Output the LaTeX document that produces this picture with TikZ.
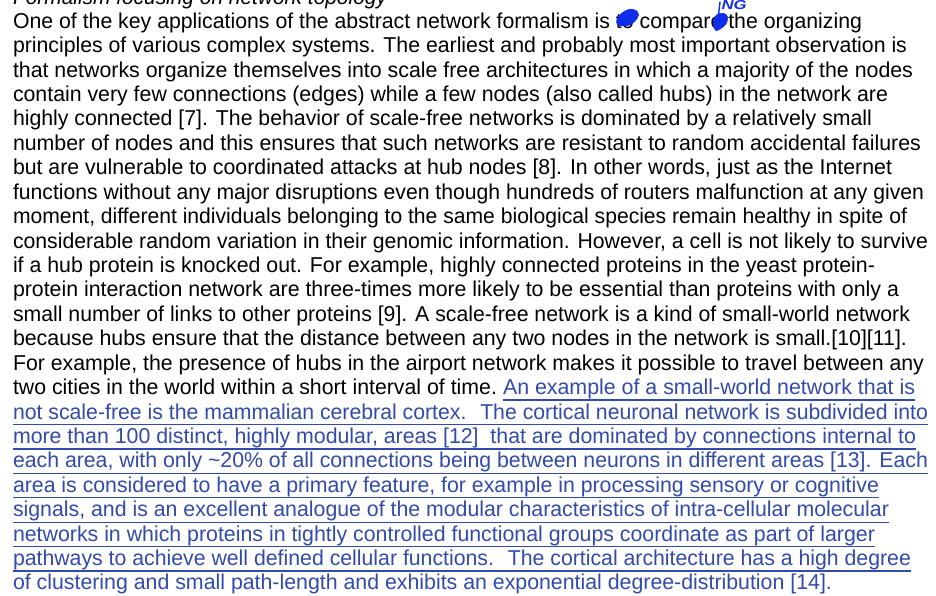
\documentclass[tikz,border=0pt]{standalone}
\usepackage{fontspec}
\setmainfont{Liberation Sans}
\usepackage{graphicx}
\definecolor{linkblue}{RGB}{50,75,170}
\definecolor{penblue}{RGB}{15,45,235}
\newcommand{\fitw}[2]{\resizebox{#1pt}{\height}{#2}}
\tikzset{
  txt/.style={anchor=base west, inner sep=0pt, outer sep=0pt, font=\fontsize{21.5}{24}\selectfont, text=black},
  lnk/.style={txt, text=linkblue},
  ul/.style={draw=linkblue, line width=1.4pt},
  pen/.style={fill=penblue, draw=penblue, line width=0.6pt, line join=round}
}
\begin{document}
\begin{tikzpicture}[x=1pt,y=-1pt]
\useasboundingbox[fill=white] (0,0) rectangle (936,595);
\def\bl#1{\fpeval{28.3+24.42*(#1-1)}}
\node[txt, font=\fontsize{21.5}{24}\selectfont\itshape] (t0) at (13,4.2) {\fitw{374}{Formalism focusing on network topology}};
\node[txt] (l1) at (13,\bl{1}) {\fitw{849}{One of the key applications of the abstract network formalism is to compare the organizing}};
\node[txt] (l2) at (13,\bl{2}) {\fitw{894}{principles of various complex systems. The earliest and probably most important observation is}};
\node[txt] (l3) at (13,\bl{3}) {\fitw{900}{that networks organize themselves into scale free architectures in which a majority of the nodes}};
\node[txt] (l4) at (13,\bl{4}) {\fitw{875}{contain very few connections (edges) while a few nodes (also called hubs) in the network are}};
\node[txt] (l5) at (13,\bl{5}) {\fitw{859}{highly connected [7]. The behavior of scale-free networks is dominated by a relatively small}};
\node[txt] (l6) at (13,\bl{6}) {\fitw{908}{number of nodes and this ensures that such networks are resistant to random accidental failures}};
\node[txt] (l7) at (13,\bl{7}) {\fitw{879}{but are vulnerable to coordinated attacks at hub nodes [8]. In other words, just as the Internet}};
\node[txt] (l8) at (13,\bl{8}) {\fitw{911}{functions without any major disruptions even though hundreds of routers malfunction at any given}};
\node[txt] (l9) at (13,\bl{9}) {\fitw{894}{moment, different individuals belonging to the same biological species remain healthy in spite of}};
\node[txt] (l10) at (13,\bl{10}) {\fitw{915}{considerable random variation in their genomic information. However, a cell is not likely to survive}};
\node[txt] (l11) at (13,\bl{11}) {\fitw{862}{if a hub protein is knocked out. For example, highly connected proteins in the yeast protein-}};
\node[txt] (l12) at (13,\bl{12}) {\fitw{886}{protein interaction network are three-times more likely to be essential than proteins with only a}};
\node[txt] (l13) at (13,\bl{13}) {\fitw{897}{small number of links to other proteins [9]. A scale-free network is a kind of small-world network}};
\node[txt] (l14) at (13,\bl{14}) {\fitw{894}{because hubs ensure that the distance between any two nodes in the network is small.[10][11].}};
\node[txt] (l15) at (13,\bl{15}) {\fitw{911}{For example, the presence of hubs in the airport network makes it possible to travel between any}};
\node[txt] (l16a) at (13,\bl{16}) {\fitw{484}{two cities in the world within a short interval of time.}};
\node[lnk] (l16b) at (503,\bl{16}) {\fitw{412}{An example of a small-world network that is}};
\node[lnk] (l17) at (13,\bl{17}) {\fitw{915}{not scale-free is the mammalian cerebral cortex.~ The cortical neuronal network is subdivided into}};
\node[lnk] (l18) at (13,\bl{18}) {\fitw{903}{more than 100 distinct, highly modular, areas [12]~ that are dominated by connections internal to}};
\node[lnk] (l19) at (13,\bl{19}) {\fitw{915}{each area, with only \textasciitilde20\% of all connections being between neurons in different areas [13]. Each}};
\node[lnk] (l20) at (13,\bl{20}) {\fitw{866}{area is considered to have a primary feature, for example in processing sensory or cognitive}};
\node[lnk] (l21) at (13,\bl{21}) {\fitw{876}{signals, and is an excellent analogue of the modular characteristics of intra-cellular molecular}};
\node[lnk] (l22) at (13,\bl{22}) {\fitw{862}{networks in which proteins in tightly controlled functional groups coordinate as part of larger}};
\node[lnk] (l23) at (13,\bl{23}) {\fitw{898}{pathways to achieve well defined cellular functions.~ The cortical architecture has a high degree}};
\node[lnk] (l24) at (13,\bl{24}) {\fitw{819}{of clustering and small path-length and exhibits an exponential degree-distribution [14].}};
% underlines
\foreach \n in {l16b,l17,l18,l19,l20,l21,l22,l23}
  \draw[ul] ([yshift=-5.5pt]\n.base west) -- ([yshift=-5.5pt]\n.base east);
% handwritten edits
\fill[pen] plot[smooth cycle, tension=0.6] coordinates {(618,25) (617,19) (622,13) (629,9.5) (636,10.5) (638.5,15) (635,21) (628,25.5)};
\fill[pen] plot[smooth cycle, tension=0.6] coordinates {(713.5,21) (717,14.5) (724,13.5) (727.5,17) (726,24) (720,29) (716,30.5) (714,27)};
\draw[penblue, line width=1.4pt, line cap=round] (720,2) -- (718.5,15);
\node[inner sep=0pt, text=penblue, font=\fontsize{13}{14}\selectfont\bfseries\itshape] (ing) at (734,4.6) {\resizebox{25pt}{\height}{NG}};
\end{tikzpicture}
\end{document}
